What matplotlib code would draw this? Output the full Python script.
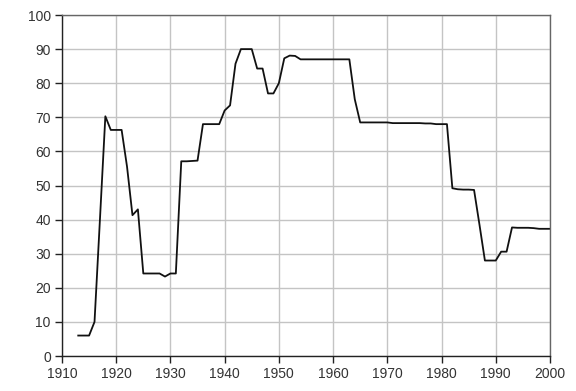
import matplotlib
matplotlib.use('Agg')
import matplotlib.pyplot as plt

years = list(range(1913, 2001))
rates = [
    6, 6, 6, 10, 40, 70.3, 66.3, 66.3, 66.3, 55.5,   # 1913-1922
    41.3, 43, 24.2, 24.2, 24.2, 24.2, 23.3, 24.2, 24.2, 57.1,   # 1923-1932
    57.1, 57.2, 57.3, 68, 68, 68, 68, 72, 73.5, 85.7,   # 1933-1942
    90, 90, 90, 84.3, 84.3, 77, 77, 80, 87.3, 88.1,   # 1943-1952
    88, 87, 87, 87, 87, 87, 87, 87, 87, 87,   # 1953-1962
    87, 75.3, 68.5, 68.5, 68.5, 68.5, 68.5, 68.5, 68.3, 68.3,   # 1963-1972
    68.3, 68.3, 68.3, 68.3, 68.2, 68.2, 68, 68, 68, 49.2,   # 1973-1982
    48.9, 48.8, 48.8, 48.7, 38.5, 28, 28, 28, 30.6, 30.6,   # 1983-1992
    37.7, 37.6, 37.6, 37.6, 37.5, 37.3, 37.3, 37.3,   # 1993-2000
]
xticks = list(range(1910, 2001, 10))
yticks = list(range(0, 101, 10))

plt.rcParams['font.family'] = ['Liberation Sans', 'DejaVu Sans']
fig = plt.figure(figsize=(5.76, 3.91), dpi=100)
ax = fig.add_axes([0.1076, 0.0895, 0.8472, 0.8721])

ax.plot(years, rates, color='#111111', linewidth=1.3)

ax.set_xlim(1910, 2000)
ax.set_ylim(0, 100)
ax.set_xticks(xticks)
ax.set_yticks(yticks)
ax.grid(True, color='#c4c4c4', linewidth=1.0)
ax.set_axisbelow(True)

for side in ['top', 'right']:
    ax.spines[side].set_color('#666666')
    ax.spines[side].set_linewidth(1.0)
for side in ['left', 'bottom']:
    ax.spines[side].set_color('#222222')
    ax.spines[side].set_linewidth(1.0)

ax.tick_params(direction='out', length=5, width=1.0, color='#222222',
               labelsize=10, labelcolor='#333333', pad=3)

fig.savefig('out.png', dpi=100)
